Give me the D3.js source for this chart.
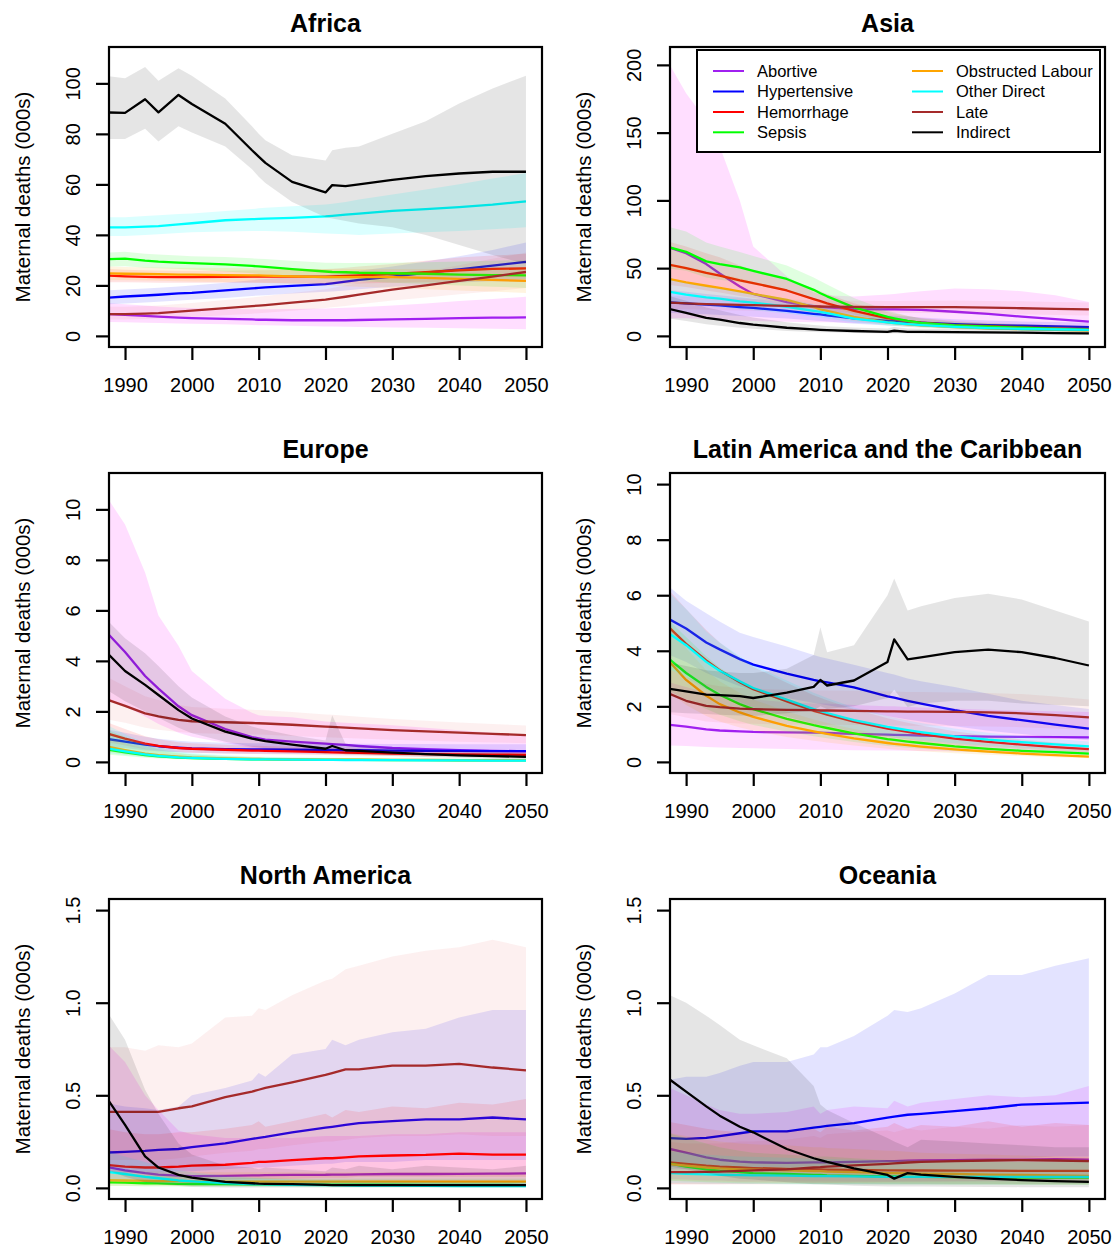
<!DOCTYPE html>
<html lang="en">
<head>
<meta charset="UTF-8">
<title>Maternal deaths by cause and region</title>
<script src="https://d3js.org/d3.v7.min.js"></script>
<style>
  body { margin: 0; background: #fff; }
  svg { display: block; font-family: "Liberation Sans", Arial, sans-serif; }
  .tick text { font-family: "Liberation Sans", Arial, sans-serif; font-size: 20px; fill: #000; }
  .title { font-size: 25px; font-weight: bold; }
  .ylab { font-size: 20.5px; }
  .legend text { font-size: 16.5px; }
</style>
</head>
<body>
<svg width="1115" height="1249"></svg>
<script>
// years shared by every series
const years = [1987, 1990, 1993, 1995, 1998, 2000, 2005, 2009, 2010, 2011, 2015, 2020, 2021, 2023, 2025, 2030, 2035, 2040, 2045, 2050];
const causes = ["Abortive", "Hypertensive", "Hemorrhage", "Sepsis", "Obstructed Labour", "Other Direct", "Late", "Indirect"];
const lineColors = ["#a020f0", "#0000ff", "#ff0000", "#00ff00", "#ffa500", "#00ffff", "#a52a2a", "#000000"];
const bandColors = ["#ff00ff", "#0000ff", "#ff0000", "#00ff00", "#ffa500", "#00ffff", "#e04040", "#000000"];
const bandOpacity = [0.13, 0.11, 0.11, 0.12, 0.12, 0.14, 0.08, 0.1];
const regions = ["Africa", "Asia", "Europe", "Latin America and the Caribbean", "North America", "Oceania"];
const yMax = [110, 205, 11, 10, 1.5, 1.5];
const yTicks = [[0, 20, 40, 60, 80, 100], [0, 50, 100, 150, 200], [0, 2, 4, 6, 8, 10], [0, 2, 4, 6, 8, 10], [0, 0.5, 1, 1.5], [0, 0.5, 1, 1.5]];
const xTicks = [1990, 2000, 2010, 2020, 2030, 2040, 2050];

// rows follow the order of causes
const africaMed = [
  [8.7, 8.3, 7.9, 7.6, 7.2, 7.0, 6.7, 6.5, 6.4, 6.4, 6.2, 6.2, 6.2, 6.2, 6.3, 6.5, 6.7, 7.0, 7.2, 7.3],
  [15.0, 15.6, 16.0, 16.3, 16.8, 17.0, 18.0, 18.8, 19.0, 19.2, 19.8, 20.5, 20.8, 21.5, 22.2, 23.5, 25.0, 26.3, 27.8, 29.3],
  [23.9, 23.6, 23.4, 23.3, 23.3, 23.3, 23.4, 23.5, 23.5, 23.5, 23.5, 23.5, 23.6, 23.8, 24.0, 24.5, 25.2, 26.0, 26.5, 26.7],
  [30.3, 30.6, 29.8, 29.4, 29.0, 28.8, 28.3, 27.7, 27.5, 27.3, 26.4, 25.5, 25.3, 25.2, 25.0, 24.8, 24.6, 24.3, 24.1, 24.0],
  [24.8, 24.6, 24.5, 24.4, 24.3, 24.3, 24.1, 24.0, 24.0, 23.9, 23.6, 23.3, 23.3, 23.3, 23.3, 23.3, 23.0, 22.6, 22.2, 21.8],
  [43.0, 43.0, 43.3, 43.5, 44.2, 44.6, 45.8, 46.2, 46.3, 46.4, 46.7, 47.3, 47.5, 48.0, 48.4, 49.5, 50.2, 51.0, 52.0, 53.3],
  [8.6, 8.6, 8.8, 9.0, 9.6, 10.0, 11.0, 11.8, 12.0, 12.2, 13.2, 14.4, 14.8, 15.5, 16.3, 18.3, 20.0, 21.8, 23.5, 25.3],
  [88.5, 88.3, 93.7, 88.5, 95.4, 91.8, 84.0, 73.5, 71.0, 68.5, 61.0, 56.8, 59.7, 59.3, 60.0, 61.8, 63.3, 64.3, 65.0, 65.0]
];
const africaLo = [
  [5.5, 5.4, 5.2, 5.1, 4.9, 4.8, 4.6, 4.3, 4.2, 4.2, 4.0, 3.7, 3.7, 3.6, 3.5, 3.3, 3.2, 3.0, 2.8, 2.6],
  [12.5, 12.8, 13.2, 13.5, 14.0, 14.3, 15.0, 15.8, 16.0, 16.1, 16.8, 17.5, 17.6, 18.0, 18.5, 19.5, 20.2, 21.0, 21.8, 22.5],
  [21.3, 21.2, 21.1, 21.0, 21.0, 21.0, 21.0, 21.0, 21.0, 21.0, 20.8, 20.5, 20.5, 20.6, 20.7, 21.0, 21.2, 21.5, 21.5, 21.5],
  [27.5, 27.6, 27.0, 26.8, 26.5, 26.3, 25.5, 24.8, 24.5, 24.3, 23.5, 22.5, 22.3, 22.0, 21.7, 21.0, 20.5, 20.0, 19.5, 19.0],
  [22.0, 22.0, 21.9, 21.8, 21.6, 21.5, 21.3, 21.1, 21.0, 20.9, 20.5, 20.0, 19.9, 19.7, 19.5, 19.0, 18.5, 18.0, 17.5, 17.0],
  [39.5, 39.6, 40.0, 40.2, 40.7, 41.0, 41.3, 41.5, 41.5, 41.5, 41.2, 40.5, 40.4, 40.2, 40.0, 40.5, 41.0, 41.5, 42.2, 43.0],
  [6.5, 6.5, 6.7, 6.9, 7.3, 7.5, 8.2, 8.8, 9.0, 9.2, 10.0, 11.0, 11.3, 11.8, 12.5, 14.0, 15.2, 16.5, 17.7, 19.0],
  [78.0, 78.0, 82.0, 77.0, 83.0, 80.5, 75.0, 66.0, 63.0, 60.5, 53.0, 47.0, 46.5, 45.5, 44.5, 43.0, 40.0, 36.0, 32.0, 28.5]
];
const africaHi = [
  [13.0, 12.5, 12.0, 11.6, 11.2, 11.0, 10.7, 10.5, 10.5, 10.5, 10.6, 10.8, 10.9, 11.1, 11.3, 12.0, 12.8, 13.8, 14.6, 15.5],
  [18.0, 18.4, 18.8, 19.1, 19.6, 20.0, 21.0, 22.0, 22.3, 22.5, 23.2, 24.0, 24.3, 25.0, 25.8, 27.5, 29.5, 31.5, 34.0, 37.0],
  [26.5, 26.2, 26.0, 25.9, 25.8, 25.8, 25.8, 26.0, 26.0, 26.0, 26.2, 26.5, 26.6, 27.0, 27.5, 28.5, 29.8, 31.0, 31.8, 32.5],
  [33.0, 33.3, 32.5, 32.2, 31.8, 31.5, 31.2, 30.7, 30.5, 30.4, 29.8, 29.0, 29.0, 28.9, 28.9, 29.0, 29.2, 29.5, 29.8, 30.0],
  [27.5, 27.3, 27.2, 27.1, 27.0, 27.0, 26.9, 26.8, 26.8, 26.8, 26.6, 26.5, 26.5, 26.5, 26.5, 26.5, 26.5, 26.5, 26.8, 27.0],
  [47.0, 47.0, 47.5, 47.8, 48.3, 48.5, 49.5, 50.2, 50.5, 50.7, 51.3, 52.0, 52.3, 53.0, 54.0, 56.0, 58.0, 60.0, 62.3, 64.5],
  [11.5, 11.5, 11.8, 12.0, 12.6, 13.0, 14.2, 15.2, 15.5, 15.8, 17.0, 18.5, 19.0, 20.0, 21.0, 23.0, 25.5, 28.0, 30.5, 33.0],
  [103, 102, 106.5, 101, 106, 103, 94, 83, 80, 77.5, 71.5, 69.5, 73.5, 74.5, 75, 80, 85, 92, 98, 103]
];

const asiaMed = [
  [66, 61, 53, 46, 36.5, 31, 25, 22, 21.4, 21, 19.8, 19.5, 19.5, 19.4, 19.2, 17.8, 16.2, 14.2, 12.3, 10.5],
  [25, 24, 23, 22.5, 21.3, 20.7, 18.5, 16.3, 15.8, 15.2, 13, 11, 10.8, 10.3, 9.8, 8.7, 8, 7.5, 7, 6.5],
  [53, 50, 46.5, 44.5, 41, 39, 33.5, 27.2, 25.6, 24, 18.5, 13, 12.3, 10.8, 9.7, 8, 7.2, 6.3, 5.6, 5],
  [66, 62, 55, 53, 50.5, 48, 42, 34, 31.5, 29.2, 21, 14, 13, 11, 9.6, 7.8, 6.8, 6, 5.2, 4.5],
  [42.5, 39.5, 37, 35.5, 32.8, 31, 26.5, 21.3, 19.5, 18.5, 14, 10, 9.5, 8.5, 7.8, 6.5, 5.6, 5, 4.5, 4],
  [33, 30.5, 28.5, 27.5, 25.5, 24.6, 21.5, 18.5, 17.7, 16.8, 12.8, 9.9, 9.5, 8.7, 8, 6.6, 5.7, 5.1, 4.7, 4.4],
  [24.6, 24, 23.5, 23.2, 22.9, 22.7, 22.2, 21.8, 21.7, 21.6, 21.4, 21.3, 21.3, 21.3, 21.3, 21.2, 20.8, 20.4, 20, 19.5],
  [20.5, 17, 13.3, 12, 9.5, 8.3, 6, 4.8, 4.5, 4.3, 3.6, 3, 3.8, 3, 2.9, 2.8, 2.6, 2.4, 2.1, 1.8]
];
const asiaLo = [
  [13, 13, 12.5, 12, 11.5, 11, 10.5, 10, 10, 10, 9.5, 9, 9, 8.8, 8.5, 8, 7, 6, 5, 4],
  [17, 16.5, 16, 15.5, 14.7, 14.2, 12.8, 11.3, 11, 10.6, 9, 7.6, 7.4, 7, 6.6, 5.8, 5.2, 4.8, 4.4, 4],
  [38, 36, 33.5, 32, 29.5, 28, 24, 20, 19, 17.8, 13.5, 9.3, 8.8, 7.8, 7, 5.6, 4.8, 4, 3.5, 3],
  [50, 48, 43, 41.5, 39.5, 38, 33, 26.5, 24.5, 22.8, 16, 10.5, 9.8, 8.3, 7.2, 5.5, 4.8, 4, 3.5, 3],
  [33, 31, 29, 28, 26, 24.5, 21, 16.8, 15.5, 14.6, 11, 7.8, 7.4, 6.6, 6, 5, 4.3, 3.8, 3.4, 3],
  [25, 23.5, 22, 21.2, 19.8, 19, 16.5, 14.2, 13.6, 12.9, 9.8, 7.6, 7.3, 6.7, 6.1, 5, 4.3, 3.9, 3.6, 3.3],
  [20, 19.6, 19.2, 19, 18.7, 18.5, 18, 17.6, 17.5, 17.4, 17.2, 17, 17, 17, 16.9, 16.7, 16.3, 15.9, 15.5, 15],
  [13, 11, 8.5, 7.5, 6, 5.2, 3.7, 2.9, 2.7, 2.6, 2.1, 1.7, 2, 1.7, 1.6, 1.5, 1.4, 1.3, 1.1, 0.9]
];
const asiaHi = [
  [205, 179, 159, 140, 100, 66, 44, 32, 30.5, 30, 29, 30.5, 31, 32, 33, 35, 34.5, 33, 30, 25],
  [34, 32.5, 31, 30, 28.5, 27.5, 24.5, 22, 21.5, 20.8, 18, 15.2, 14.9, 14.3, 13.6, 12.2, 11.3, 10.7, 10.2, 9.7],
  [70, 66, 61, 58, 52, 48.5, 42, 35, 33, 31, 24, 17.5, 16.6, 14.6, 13.2, 11, 9.7, 8.7, 8, 7.5],
  [81, 77, 69, 66, 62, 59, 52, 43, 40.5, 38, 28, 18.5, 17.3, 14.8, 12.8, 10.5, 9.3, 8.3, 7.5, 7],
  [54, 51, 48, 46, 42.5, 40, 34.5, 27.5, 25.3, 24, 18, 12.8, 12.2, 11, 10, 8.4, 7.3, 6.5, 5.9, 5.3],
  [42, 39, 36.5, 35, 32.5, 31.5, 27.5, 23.5, 22.5, 21.4, 16.4, 12.7, 12.2, 11.2, 10.3, 8.5, 7.4, 6.6, 6.1, 5.7],
  [29.5, 29, 28.5, 28, 27.6, 27.3, 26.8, 26.3, 26.2, 26.1, 25.9, 25.8, 25.8, 25.9, 26, 26.1, 25.8, 25.5, 25.1, 24.7],
  [30, 26, 21, 19, 15.5, 13.5, 10, 8, 7.6, 7.2, 6.2, 5.4, 6.5, 5.5, 5.3, 5.2, 5, 4.8, 4.4, 4]
];

const europeMed = [
  [5.2, 4.35, 3.4, 2.9, 2.2, 1.85, 1.3, 0.98, 0.93, 0.88, 0.8, 0.72, 0.7, 0.67, 0.63, 0.55, 0.5, 0.46, 0.44, 0.42],
  [0.92, 0.8, 0.68, 0.62, 0.56, 0.53, 0.5, 0.49, 0.49, 0.49, 0.48, 0.47, 0.47, 0.46, 0.46, 0.45, 0.44, 0.44, 0.43, 0.43],
  [1.15, 0.92, 0.72, 0.63, 0.55, 0.52, 0.48, 0.45, 0.45, 0.44, 0.42, 0.39, 0.38, 0.37, 0.36, 0.33, 0.31, 0.3, 0.29, 0.28],
  [0.5, 0.38, 0.27, 0.22, 0.17, 0.15, 0.12, 0.1, 0.1, 0.1, 0.09, 0.08, 0.08, 0.08, 0.08, 0.07, 0.07, 0.06, 0.06, 0.06],
  [0.62, 0.47, 0.33, 0.27, 0.21, 0.18, 0.14, 0.12, 0.12, 0.11, 0.1, 0.09, 0.09, 0.09, 0.09, 0.08, 0.08, 0.07, 0.07, 0.07],
  [0.55, 0.42, 0.3, 0.24, 0.18, 0.16, 0.12, 0.1, 0.1, 0.1, 0.09, 0.08, 0.08, 0.07, 0.07, 0.07, 0.06, 0.06, 0.05, 0.05],
  [2.5, 2.22, 1.92, 1.8, 1.66, 1.61, 1.57, 1.54, 1.53, 1.52, 1.47, 1.4, 1.39, 1.36, 1.33, 1.26, 1.21, 1.16, 1.11, 1.06],
  [4.4, 3.6, 3.05, 2.65, 2.05, 1.72, 1.2, 0.92, 0.87, 0.82, 0.68, 0.52, 0.63, 0.46, 0.44, 0.37, 0.31, 0.26, 0.23, 0.2]
];
const europeLo = [
  [2.5, 2.2, 1.8, 1.5, 1.15, 1.0, 0.75, 0.55, 0.52, 0.5, 0.45, 0.4, 0.4, 0.38, 0.36, 0.32, 0.3, 0.28, 0.26, 0.25],
  [0.6, 0.55, 0.45, 0.42, 0.38, 0.36, 0.33, 0.32, 0.32, 0.32, 0.31, 0.3, 0.3, 0.3, 0.3, 0.29, 0.28, 0.28, 0.27, 0.27],
  [0.8, 0.65, 0.5, 0.44, 0.38, 0.36, 0.33, 0.31, 0.31, 0.3, 0.29, 0.27, 0.26, 0.25, 0.25, 0.23, 0.21, 0.2, 0.2, 0.19],
  [0.3, 0.23, 0.16, 0.13, 0.1, 0.09, 0.07, 0.06, 0.06, 0.06, 0.05, 0.05, 0.05, 0.05, 0.05, 0.04, 0.04, 0.04, 0.04, 0.04],
  [0.4, 0.3, 0.21, 0.17, 0.13, 0.11, 0.09, 0.07, 0.07, 0.07, 0.06, 0.06, 0.06, 0.05, 0.05, 0.05, 0.05, 0.04, 0.04, 0.04],
  [0.35, 0.27, 0.19, 0.15, 0.11, 0.1, 0.08, 0.06, 0.06, 0.06, 0.05, 0.05, 0.05, 0.04, 0.04, 0.04, 0.03, 0.03, 0.03, 0.03],
  [1.7, 1.55, 1.35, 1.27, 1.18, 1.14, 1.1, 1.08, 1.08, 1.07, 1.03, 0.98, 0.97, 0.95, 0.93, 0.88, 0.84, 0.8, 0.77, 0.74],
  [2.9, 2.4, 2.0, 1.75, 1.35, 1.13, 0.8, 0.6, 0.57, 0.54, 0.44, 0.33, 0.4, 0.29, 0.27, 0.23, 0.19, 0.16, 0.13, 0.11]
];
const europeHi = [
  [10.6, 9.4, 7.5, 5.8, 4.6, 3.6, 2.5, 1.95, 1.85, 1.82, 1.77, 1.6, 1.58, 1.55, 1.52, 1.45, 1.35, 1.25, 1.15, 1.05],
  [1.3, 1.15, 1.0, 0.92, 0.84, 0.8, 0.76, 0.74, 0.74, 0.74, 0.73, 0.72, 0.72, 0.72, 0.72, 0.71, 0.71, 0.7, 0.7, 0.7],
  [1.6, 1.3, 1.02, 0.9, 0.78, 0.74, 0.68, 0.64, 0.64, 0.63, 0.6, 0.56, 0.55, 0.54, 0.52, 0.48, 0.45, 0.43, 0.42, 0.41],
  [1.3, 1.0, 0.65, 0.5, 0.36, 0.3, 0.22, 0.18, 0.17, 0.17, 0.15, 0.13, 0.13, 0.13, 0.12, 0.11, 0.11, 0.1, 0.1, 0.1],
  [1.0, 0.75, 0.52, 0.43, 0.33, 0.29, 0.23, 0.19, 0.19, 0.18, 0.16, 0.15, 0.15, 0.14, 0.14, 0.13, 0.13, 0.12, 0.12, 0.12],
  [1.5, 1.1, 0.75, 0.58, 0.42, 0.35, 0.26, 0.21, 0.2, 0.2, 0.18, 0.16, 0.16, 0.15, 0.15, 0.14, 0.13, 0.13, 0.12, 0.12],
  [3.4, 3.0, 2.6, 2.45, 2.25, 2.17, 2.1, 2.06, 2.05, 2.04, 1.98, 1.88, 1.87, 1.83, 1.79, 1.7, 1.63, 1.56, 1.5, 1.44],
  [5.7, 4.9, 4.3, 3.8, 3.0, 2.55, 1.8, 1.4, 1.33, 1.27, 1.05, 0.85, 1.85, 0.72, 0.66, 0.57, 0.5, 0.44, 0.39, 0.35]
];

const latamMed = [
  [1.35, 1.27, 1.17, 1.13, 1.1, 1.08, 1.06, 1.05, 1.05, 1.04, 1.01, 0.98, 0.97, 0.96, 0.95, 0.93, 0.91, 0.9, 0.89, 0.88],
  [5.2, 4.8, 4.3, 4.05, 3.7, 3.5, 3.18, 2.95, 2.9, 2.86, 2.68, 2.36, 2.31, 2.2, 2.1, 1.86, 1.66, 1.5, 1.34, 1.2],
  [4.95, 4.25, 3.65, 3.3, 2.87, 2.62, 2.18, 1.84, 1.77, 1.7, 1.45, 1.2, 1.16, 1.08, 1.0, 0.84, 0.72, 0.62, 0.53, 0.46],
  [3.8, 3.2, 2.7, 2.42, 2.08, 1.9, 1.55, 1.32, 1.27, 1.22, 1.03, 0.82, 0.79, 0.73, 0.68, 0.56, 0.47, 0.4, 0.35, 0.3],
  [3.75, 2.95, 2.38, 2.08, 1.78, 1.62, 1.3, 1.1, 1.05, 1.01, 0.85, 0.68, 0.65, 0.6, 0.55, 0.45, 0.37, 0.3, 0.24, 0.19],
  [4.7, 4.2, 3.6, 3.28, 2.9, 2.66, 2.24, 1.9, 1.83, 1.76, 1.5, 1.26, 1.22, 1.14, 1.07, 0.92, 0.8, 0.71, 0.63, 0.56],
  [2.5, 2.2, 2.02, 1.97, 1.92, 1.9, 1.87, 1.86, 1.85, 1.85, 1.84, 1.82, 1.82, 1.81, 1.81, 1.8, 1.78, 1.75, 1.68, 1.6],
  [2.65, 2.54, 2.42, 2.4, 2.37, 2.3, 2.49, 2.7, 2.95, 2.75, 2.93, 3.6, 4.41, 3.69, 3.76, 3.95, 4.04, 3.95, 3.74, 3.47]
];
const latamLo = [
  [0.6, 0.57, 0.54, 0.52, 0.5, 0.49, 0.46, 0.44, 0.44, 0.44, 0.42, 0.41, 0.41, 0.4, 0.39, 0.37, 0.35, 0.33, 0.31, 0.3],
  [3.9, 3.6, 3.2, 3.0, 2.72, 2.58, 2.3, 2.12, 2.08, 2.04, 1.88, 1.65, 1.61, 1.53, 1.45, 1.28, 1.12, 1.0, 0.88, 0.78],
  [3.7, 3.2, 2.75, 2.5, 2.15, 1.97, 1.63, 1.37, 1.32, 1.27, 1.08, 0.9, 0.87, 0.81, 0.75, 0.63, 0.54, 0.46, 0.4, 0.34],
  [2.6, 2.25, 1.9, 1.7, 1.46, 1.33, 1.09, 0.92, 0.89, 0.85, 0.72, 0.57, 0.55, 0.51, 0.47, 0.39, 0.33, 0.28, 0.24, 0.21],
  [2.6, 2.05, 1.65, 1.45, 1.24, 1.13, 0.9, 0.76, 0.73, 0.7, 0.59, 0.47, 0.45, 0.42, 0.38, 0.31, 0.26, 0.21, 0.17, 0.13],
  [3.4, 3.05, 2.6, 2.38, 2.1, 1.93, 1.62, 1.38, 1.33, 1.28, 1.09, 0.91, 0.88, 0.83, 0.78, 0.67, 0.58, 0.51, 0.46, 0.41],
  [1.75, 1.6, 1.45, 1.42, 1.38, 1.37, 1.35, 1.34, 1.34, 1.34, 1.33, 1.31, 1.31, 1.3, 1.3, 1.29, 1.27, 1.25, 1.2, 1.14],
  [1.8, 1.75, 1.72, 1.7, 1.67, 1.65, 1.75, 1.85, 2.0, 1.9, 2.0, 2.3, 2.6, 1.98, 2.1, 2.2, 2.2, 2.1, 2.05, 2.0]
];
const latamHi = [
  [2.9, 2.7, 2.5, 2.4, 2.3, 2.25, 2.15, 2.1, 2.1, 2.1, 2.05, 2.0, 2.0, 1.98, 1.96, 1.92, 1.88, 1.85, 1.82, 1.8],
  [6.4, 5.8, 5.35, 5.05, 4.65, 4.5, 4.15, 3.85, 3.78, 3.72, 3.5, 3.2, 3.15, 3.0, 2.9, 2.7, 2.45, 2.2, 2.05, 1.9],
  [6.3, 5.5, 4.75, 4.3, 3.75, 3.42, 2.85, 2.4, 2.31, 2.22, 1.9, 1.57, 1.52, 1.41, 1.31, 1.1, 0.94, 0.81, 0.7, 0.6],
  [5.2, 4.5, 3.8, 3.4, 2.92, 2.66, 2.17, 1.85, 1.78, 1.71, 1.44, 1.15, 1.11, 1.03, 0.95, 0.79, 0.66, 0.56, 0.49, 0.42],
  [5.2, 4.1, 3.3, 2.9, 2.48, 2.25, 1.81, 1.53, 1.46, 1.4, 1.18, 0.95, 0.91, 0.84, 0.77, 0.63, 0.52, 0.42, 0.34, 0.27],
  [6.2, 5.5, 4.7, 4.3, 3.8, 3.48, 2.93, 2.49, 2.4, 2.3, 1.96, 1.65, 1.6, 1.49, 1.4, 1.2, 1.05, 0.93, 0.82, 0.73],
  [3.4, 3.05, 2.8, 2.72, 2.66, 2.63, 2.6, 2.58, 2.57, 2.57, 2.56, 2.53, 2.53, 2.52, 2.52, 2.5, 2.48, 2.44, 2.35, 2.25],
  [3.6, 3.45, 3.3, 3.25, 3.2, 3.2, 3.35, 3.85, 4.85, 3.95, 4.2, 6.0, 6.6, 5.45, 5.6, 5.9, 6.05, 5.85, 5.45, 5.05]
];

const northAmMed = [
  [0.115, 0.095, 0.08, 0.072, 0.066, 0.064, 0.065, 0.068, 0.068, 0.069, 0.07, 0.071, 0.072, 0.072, 0.073, 0.075, 0.075, 0.076, 0.077, 0.078],
  [0.19, 0.195, 0.2, 0.205, 0.21, 0.22, 0.24, 0.265, 0.27, 0.275, 0.3, 0.325, 0.33, 0.34, 0.35, 0.36, 0.37, 0.37, 0.38, 0.37],
  [0.125, 0.115, 0.11, 0.11, 0.115, 0.12, 0.125, 0.135, 0.14, 0.14, 0.15, 0.16, 0.16, 0.165, 0.17, 0.175, 0.178, 0.185, 0.18, 0.18],
  [0.03, 0.028, 0.025, 0.024, 0.022, 0.021, 0.02, 0.019, 0.019, 0.019, 0.018, 0.018, 0.018, 0.017, 0.017, 0.017, 0.016, 0.016, 0.016, 0.015],
  [0.042, 0.04, 0.038, 0.037, 0.036, 0.035, 0.034, 0.034, 0.034, 0.034, 0.034, 0.034, 0.034, 0.034, 0.034, 0.034, 0.034, 0.034, 0.034, 0.034],
  [0.088, 0.075, 0.06, 0.052, 0.04, 0.035, 0.026, 0.021, 0.02, 0.019, 0.017, 0.015, 0.015, 0.014, 0.013, 0.012, 0.011, 0.01, 0.01, 0.009],
  [0.41, 0.41, 0.41, 0.41, 0.43, 0.44, 0.49, 0.52, 0.53, 0.54, 0.57, 0.61, 0.62, 0.64, 0.64, 0.66, 0.66, 0.67, 0.65, 0.635],
  [0.5, 0.34, 0.17, 0.11, 0.07, 0.055, 0.033, 0.025, 0.023, 0.022, 0.02, 0.016, 0.015, 0.015, 0.015, 0.015, 0.015, 0.015, 0.015, 0.015]
];
const northAmLo = [
  [0.03, 0.025, 0.02, 0.02, 0.02, 0.02, 0.02, 0.02, 0.02, 0.02, 0.02, 0.02, 0.02, 0.02, 0.02, 0.02, 0.02, 0.02, 0.02, 0.02],
  [0.08, 0.08, 0.08, 0.08, 0.09, 0.09, 0.1, 0.11, 0.11, 0.11, 0.12, 0.13, 0.13, 0.14, 0.14, 0.14, 0.15, 0.15, 0.15, 0.15],
  [0.04, 0.04, 0.04, 0.04, 0.04, 0.045, 0.045, 0.05, 0.05, 0.05, 0.05, 0.055, 0.055, 0.055, 0.06, 0.06, 0.06, 0.06, 0.06, 0.06],
  [0.01, 0.01, 0.008, 0.008, 0.007, 0.007, 0.006, 0.006, 0.006, 0.006, 0.005, 0.005, 0.005, 0.005, 0.005, 0.005, 0.005, 0.005, 0.005, 0.005],
  [0.012, 0.012, 0.011, 0.011, 0.011, 0.011, 0.01, 0.01, 0.01, 0.01, 0.01, 0.01, 0.01, 0.01, 0.01, 0.01, 0.01, 0.01, 0.01, 0.01],
  [0.04, 0.034, 0.027, 0.023, 0.018, 0.016, 0.012, 0.01, 0.009, 0.009, 0.008, 0.007, 0.007, 0.006, 0.006, 0.005, 0.005, 0.005, 0.004, 0.004],
  [0.15, 0.15, 0.15, 0.15, 0.16, 0.17, 0.19, 0.2, 0.21, 0.21, 0.23, 0.25, 0.25, 0.26, 0.27, 0.28, 0.28, 0.29, 0.28, 0.28],
  [0.1, 0.06, 0.03, 0.02, 0.01, 0.005, 0.002, 0.002, 0.002, 0.002, 0.002, 0.002, 0.002, 0.002, 0.002, 0.002, 0.002, 0.002, 0.002, 0.002]
];
const northAmHi = [
  [0.79, 0.68, 0.5, 0.42, 0.31, 0.29, 0.27, 0.27, 0.27, 0.27, 0.27, 0.28, 0.28, 0.28, 0.28, 0.29, 0.29, 0.3, 0.3, 0.3],
  [0.46, 0.44, 0.43, 0.42, 0.44, 0.5, 0.54, 0.58, 0.62, 0.6, 0.72, 0.75, 0.8, 0.77, 0.8, 0.84, 0.86, 0.92, 0.96, 0.96],
  [0.32, 0.3, 0.29, 0.29, 0.3, 0.3, 0.32, 0.34, 0.36, 0.33, 0.36, 0.4, 0.38, 0.42, 0.41, 0.44, 0.43, 0.46, 0.45, 0.48],
  [0.08, 0.075, 0.07, 0.065, 0.06, 0.06, 0.055, 0.055, 0.055, 0.055, 0.05, 0.05, 0.05, 0.05, 0.05, 0.05, 0.05, 0.05, 0.05, 0.05],
  [0.1, 0.095, 0.09, 0.09, 0.088, 0.087, 0.085, 0.085, 0.085, 0.085, 0.085, 0.085, 0.085, 0.085, 0.085, 0.085, 0.085, 0.085, 0.085, 0.085],
  [0.2, 0.17, 0.14, 0.12, 0.095, 0.085, 0.065, 0.055, 0.052, 0.05, 0.045, 0.04, 0.04, 0.038, 0.036, 0.034, 0.032, 0.03, 0.03, 0.03],
  [0.76, 0.76, 0.74, 0.77, 0.76, 0.78, 0.92, 0.93, 0.97, 0.96, 1.04, 1.12, 1.13, 1.18, 1.2, 1.25, 1.28, 1.3, 1.34, 1.3],
  [0.97, 0.8, 0.53, 0.4, 0.24, 0.18, 0.12, 0.11, 0.1, 0.11, 0.1, 0.09, 0.11, 0.1, 0.12, 0.1, 0.12, 0.11, 0.1, 0.12]
];

const oceaniaMed = [
  [0.215, 0.19, 0.165, 0.152, 0.142, 0.138, 0.135, 0.138, 0.138, 0.138, 0.14, 0.145, 0.145, 0.147, 0.148, 0.15, 0.152, 0.153, 0.155, 0.152],
  [0.27, 0.265, 0.27, 0.28, 0.295, 0.305, 0.305, 0.325, 0.33, 0.335, 0.35, 0.38, 0.385, 0.395, 0.4, 0.415, 0.43, 0.45, 0.455, 0.46],
  [0.14, 0.13, 0.12, 0.115, 0.11, 0.107, 0.103, 0.1, 0.1, 0.099, 0.097, 0.095, 0.095, 0.094, 0.094, 0.093, 0.093, 0.092, 0.092, 0.092],
  [0.135, 0.115, 0.1, 0.093, 0.085, 0.08, 0.075, 0.07, 0.07, 0.068, 0.065, 0.062, 0.062, 0.06, 0.06, 0.058, 0.057, 0.056, 0.055, 0.055],
  [0.13, 0.12, 0.11, 0.105, 0.1, 0.098, 0.095, 0.09, 0.09, 0.088, 0.085, 0.08, 0.08, 0.078, 0.077, 0.075, 0.072, 0.07, 0.067, 0.065],
  [0.08, 0.076, 0.073, 0.071, 0.069, 0.068, 0.066, 0.064, 0.064, 0.063, 0.062, 0.06, 0.06, 0.06, 0.06, 0.06, 0.06, 0.06, 0.06, 0.06],
  [0.085, 0.085, 0.087, 0.088, 0.092, 0.095, 0.1, 0.11, 0.112, 0.115, 0.122, 0.13, 0.132, 0.137, 0.14, 0.145, 0.148, 0.15, 0.148, 0.145],
  [0.6, 0.52, 0.44, 0.39, 0.33, 0.3, 0.21, 0.16, 0.15, 0.14, 0.105, 0.07, 0.05, 0.08, 0.072, 0.06, 0.05, 0.042, 0.036, 0.032]
];
const oceaniaLo = [
  [0.05, 0.045, 0.04, 0.04, 0.035, 0.035, 0.035, 0.035, 0.035, 0.035, 0.035, 0.035, 0.035, 0.035, 0.035, 0.035, 0.035, 0.035, 0.035, 0.035],
  [0.1, 0.1, 0.1, 0.1, 0.11, 0.11, 0.11, 0.12, 0.12, 0.12, 0.13, 0.14, 0.14, 0.15, 0.15, 0.15, 0.16, 0.16, 0.17, 0.17],
  [0.02, 0.02, 0.02, 0.02, 0.02, 0.02, 0.02, 0.02, 0.02, 0.02, 0.02, 0.02, 0.02, 0.02, 0.02, 0.02, 0.02, 0.02, 0.02, 0.02],
  [0.04, 0.035, 0.03, 0.028, 0.025, 0.024, 0.022, 0.021, 0.02, 0.02, 0.02, 0.018, 0.018, 0.018, 0.018, 0.017, 0.017, 0.016, 0.016, 0.016],
  [0.04, 0.038, 0.035, 0.033, 0.031, 0.03, 0.029, 0.028, 0.028, 0.027, 0.026, 0.025, 0.025, 0.024, 0.024, 0.023, 0.022, 0.021, 0.02, 0.02],
  [0.025, 0.024, 0.023, 0.022, 0.021, 0.021, 0.02, 0.02, 0.02, 0.02, 0.019, 0.019, 0.019, 0.019, 0.019, 0.019, 0.019, 0.019, 0.019, 0.019],
  [0.02, 0.02, 0.02, 0.02, 0.022, 0.023, 0.025, 0.027, 0.028, 0.028, 0.03, 0.032, 0.033, 0.034, 0.035, 0.036, 0.037, 0.037, 0.037, 0.036],
  [0.12, 0.1, 0.08, 0.065, 0.05, 0.045, 0.03, 0.02, 0.02, 0.018, 0.012, 0.008, 0.007, 0.008, 0.007, 0.006, 0.005, 0.004, 0.004, 0.004]
];
const oceaniaHi = [
  [0.55, 0.5, 0.45, 0.42, 0.4, 0.4, 0.41, 0.44, 0.4, 0.42, 0.44, 0.43, 0.47, 0.44, 0.46, 0.48, 0.5, 0.49, 0.5, 0.55],
  [0.58, 0.6, 0.6, 0.62, 0.66, 0.68, 0.68, 0.72, 0.76, 0.76, 0.82, 0.93, 0.96, 0.95, 0.97, 1.05, 1.15, 1.15, 1.2, 1.24],
  [0.36, 0.34, 0.32, 0.31, 0.3, 0.3, 0.31, 0.32, 0.3, 0.33, 0.31, 0.33, 0.35, 0.32, 0.34, 0.33, 0.36, 0.33, 0.35, 0.34],
  [0.3, 0.27, 0.24, 0.22, 0.2, 0.19, 0.18, 0.17, 0.17, 0.17, 0.16, 0.15, 0.15, 0.15, 0.15, 0.14, 0.14, 0.14, 0.14, 0.14],
  [0.3, 0.28, 0.26, 0.25, 0.24, 0.235, 0.23, 0.22, 0.22, 0.215, 0.21, 0.2, 0.2, 0.195, 0.19, 0.185, 0.18, 0.175, 0.17, 0.165],
  [0.2, 0.19, 0.18, 0.175, 0.17, 0.168, 0.163, 0.158, 0.157, 0.156, 0.152, 0.148, 0.148, 0.147, 0.147, 0.146, 0.146, 0.146, 0.146, 0.146],
  [0.25, 0.24, 0.24, 0.24, 0.25, 0.25, 0.26, 0.28, 0.27, 0.29, 0.3, 0.31, 0.3, 0.32, 0.31, 0.33, 0.32, 0.34, 0.33, 0.34],
  [1.05, 1.0, 0.93, 0.88, 0.8, 0.77, 0.7, 0.55, 0.45, 0.42, 0.35, 0.27, 0.25, 0.22, 0.26, 0.25, 0.24, 0.23, 0.22, 0.22]
];

const panelData = [
  [africaMed, africaLo, africaHi],
  [asiaMed, asiaLo, asiaHi],
  [europeMed, europeLo, europeHi],
  [latamMed, latamLo, latamHi],
  [northAmMed, northAmLo, northAmHi],
  [oceaniaMed, oceaniaLo, oceaniaHi]
];

const svg = d3.select("svg");
const colX = [109, 670];
const colW = [433, 435];
const rowY = [47, 473, 899];
const boxH = 300;

regions.forEach((name, p) => {
  const left = colX[p % 2];
  const w = colW[p % 2];
  const top = rowY[Math.floor(p / 2)];
  const pad = 0.04 * yMax[p];

  const x = d3.scaleLinear().domain([1987.6, 2052.4]).range([left, left + w]);
  const y = d3.scaleLinear().domain([-pad, yMax[p] + pad]).range([top + boxH, top]);

  const g = svg.append("g");
  g.append("clipPath").attr("id", "clip" + p)
    .append("rect").attr("x", left).attr("y", top).attr("width", w).attr("height", boxH);
  const plot = g.append("g").attr("clip-path", `url(#clip${p})`);

  const [med, lo, hi] = panelData[p];

  // band then median line, cause by cause, like the original overplotting
  causes.forEach((c, i) => {
    const area = d3.area()
      .x((d, j) => x(years[j]))
      .y0((d, j) => y(lo[i][j]))
      .y1((d, j) => y(hi[i][j]));
    plot.append("path")
      .datum(med[i])
      .attr("d", area)
      .attr("fill", bandColors[i])
      .attr("fill-opacity", bandOpacity[i]);

    const line = d3.line()
      .x((d, j) => x(years[j]))
      .y(d => y(d));
    plot.append("path")
      .datum(med[i])
      .attr("d", line)
      .attr("fill", "none")
      .attr("stroke", lineColors[i])
      .attr("stroke-width", 2.3)
      .attr("stroke-linejoin", "round");
  });

  // frame
  g.append("rect")
    .attr("x", left).attr("y", top)
    .attr("width", w).attr("height", boxH)
    .attr("fill", "none").attr("stroke", "#000").attr("stroke-width", 2.2);

  // x axis
  const xa = g.append("g")
    .attr("transform", `translate(0,${top + boxH})`)
    .call(d3.axisBottom(x).tickValues(xTicks).tickSize(13).tickFormat(d3.format("d")));
  xa.select(".domain").remove();
  xa.selectAll(".tick line").attr("stroke-width", 2.2);
  xa.selectAll(".tick text").attr("y", 45).attr("dy", null);

  // y axis, labels parallel to the axis
  const fmt = yMax[p] < 2 ? d3.format(".1f") : d3.format("d");
  const ya = g.append("g")
    .attr("transform", `translate(${left},0)`)
    .call(d3.axisLeft(y).tickValues(yTicks[p]).tickSize(13).tickFormat(fmt));
  ya.select(".domain").remove();
  ya.selectAll(".tick line").attr("stroke-width", 2.2);
  ya.selectAll(".tick text")
    .attr("x", null).attr("dy", null)
    .attr("text-anchor", "middle")
    .attr("transform", "translate(-29,0) rotate(-90)");

  g.append("text")
    .attr("class", "ylab")
    .attr("text-anchor", "middle")
    .attr("transform", `translate(${left - 79},${top + boxH / 2}) rotate(-90)`)
    .text("Maternal deaths (000s)");

  g.append("text")
    .attr("class", "title")
    .attr("x", left + w / 2)
    .attr("y", top - 15)
    .attr("text-anchor", "middle")
    .text(name);

  // legend sits in the Asia panel
  if (p === 1) {
    const lg = g.append("g").attr("class", "legend");
    lg.append("rect")
      .attr("x", left + 27).attr("y", top + 3)
      .attr("width", 403).attr("height", 102)
      .attr("fill", "#fff").attr("stroke", "#000").attr("stroke-width", 2);
    const rowsY = [24, 44.5, 65, 85.3];
    causes.forEach((c, i) => {
      const col = Math.floor(i / 4);
      const lx = left + (col === 0 ? 43 : 242);
      const ly = top + rowsY[i % 4];
      lg.append("line")
        .attr("x1", lx).attr("x2", lx + 31)
        .attr("y1", ly).attr("y2", ly)
        .attr("stroke", lineColors[i]).attr("stroke-width", 2);
      lg.append("text")
        .attr("x", lx + 44).attr("y", ly)
        .attr("dy", "0.35em")
        .text(c);
    });
  }
});
</script>
</body>
</html>
